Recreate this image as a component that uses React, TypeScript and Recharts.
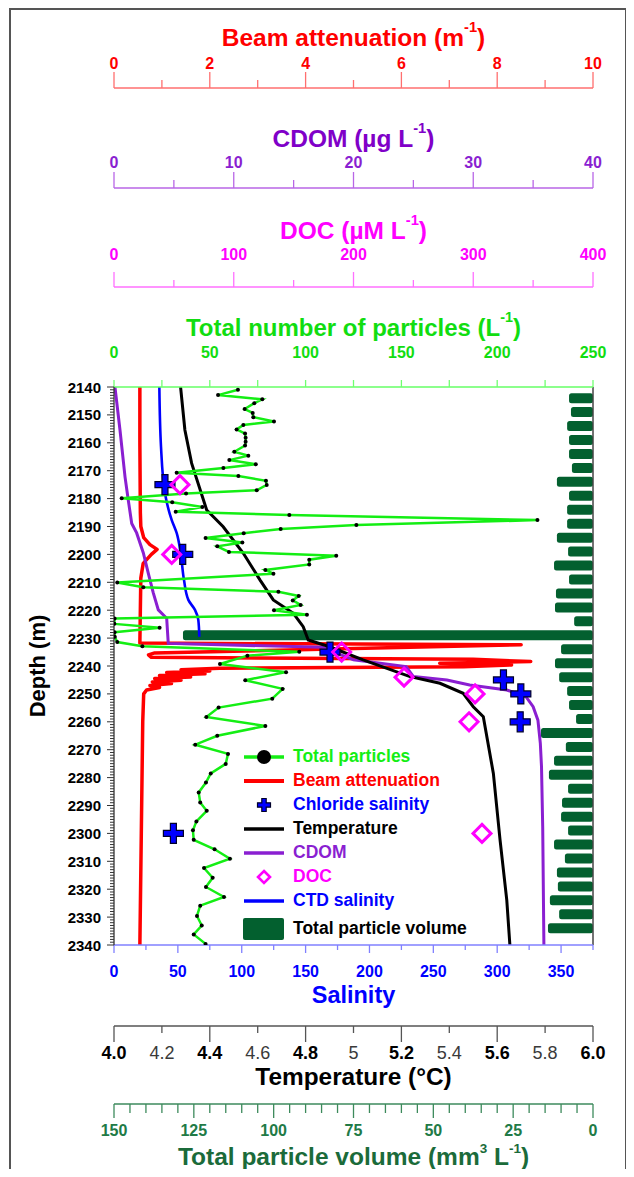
import React from "react";
import {
  ComposedChart,
  Line,
  Bar,
  XAxis,
  YAxis,
  Legend,
  ReferenceLine,
} from "recharts";

// ---- data ----
const particleDepth = [
  2141, 2142.9, 2144.4, 2145.8, 2147.9, 2149.3, 2150.8, 2152.4, 2153.6, 2155.2,
  2156.7, 2158.2, 2159.6, 2161.0, 2163.2, 2164.6, 2166.2, 2167.7, 2169.0, 2170.7,
  2171.9, 2173.6, 2175.1, 2177.0, 2178.2, 2179.9, 2181.3, 2183.0, 2184.7, 2185.9,
  2187.7, 2189.5, 2190.9, 2192.4, 2194.1, 2195.7, 2197.1, 2199.1, 2200.5, 2201.9,
  2203.6, 2205.6, 2206.9, 2210.1, 2211.8, 2213.4, 2214.9, 2216.5, 2218.1, 2220.0,
  2221.6, 2223.0, 2224.9, 2226.3, 2227.9, 2229.5, 2231.4, 2232.9, 2234.9, 2236.3,
  2239.3, 2242.2, 2245.1, 2248.2, 2251.7, 2254.9, 2258.3, 2261.5, 2265.0, 2268.2,
  2271.5, 2275.1, 2278.5, 2281.8, 2285.3, 2288.9, 2291.9, 2295.7, 2298.9, 2302.3,
  2305.7, 2309.1, 2312.4, 2315.9, 2319.2, 2322.8, 2325.9, 2329.6, 2333.0, 2336.2,
  2339.6,
];
const particleCount = [
  64.7, 54.3, 77.4, 73.2, 68.2, 72.4, 72.7, 83.5, 67.5, 64.0,
  68.4, 68.7, 68.7, 68.4, 62.8, 70.1, 60.2, 74.0, 57.1, 32.7,
  64.9, 79.3, 79.7, 74.5, 37.6, 4.0, 30.4, 46.1, 32.2, 91.5,
  221, 126.5, 87.0, 67.7, 47.8, 67.0, 53.9, 60.0, 116, 101.9,
  101.9, 79.0, 83.2, 1.7, 15.3, 85.8, 96.4, 93.3, 97.4, 83.5,
  100.7, 0.3, 0.2, 23.8, 0.3, 0.4, 1.7, 14.8, 96.7, 69.6,
  55.3, 89.8, 68.5, 88.0, 82.6, 54.6, 48.2, 79.0, 53.9, 42.4,
  59.5, 58.3, 50.5, 48.0, 44.2, 45.0, 48.4, 43.0, 41.2, 41.6,
  52.5, 60.5, 47.0, 51.5, 48.0, 57.4, 45.0, 43.3, 45.8, 41.6,
  47.8,
];

const beamDepth = [
  2140, 2160, 2185, 2190, 2194, 2196.5, 2198.2, 2200, 2203.2, 2208.5,
  2220, 2231.8, 2232.4, 2235.3, 2236.0, 2236.9, 2237.6, 2238.4, 2239.0, 2239.6,
  2240.3, 2240.8, 2241.3, 2241.8, 2242.3, 2242.8, 2243.4, 2243.9, 2244.5, 2245.1,
  2245.7, 2246.3, 2247.0, 2247.7, 2248.6, 2250, 2260, 2300, 2340,
];
const beamValue = [
  0.54, 0.54, 0.55, 0.56, 0.62, 0.75, 0.9, 0.78, 0.61, 0.56,
  0.55, 0.54, 8.5, 0.85, 0.72, 0.78, 7.5, 8.7, 6.8, 8.3,
  7.3, 2.2, 1.4, 2.0, 1.1, 1.9, 0.95, 1.6, 0.85, 1.4,
  0.8, 1.2, 0.75, 0.95, 0.68, 0.62, 0.6, 0.57, 0.54,
];

const cdomDepth = [
  2140, 2155.4, 2172.2, 2180.5, 2188.9, 2192.3, 2199.5, 2206.7, 2213.8, 2219.9,
  2222.9, 2231.9, 2233.3, 2237.8, 2240.2, 2243.8, 2245.0, 2246.8, 2248.6, 2251.0,
  2254.6, 2259.4, 2267.6, 2276.1, 2297.6, 2340,
];
const cdomValue = [
  0.08, 0.5, 0.92, 1.19, 1.48, 1.89, 2.45, 2.86, 3.28, 3.7,
  4.4, 4.53, 17.4, 20.0, 24.4, 25.0, 27.8, 29.7, 32.8, 34.4,
  35.0, 35.4, 35.6, 35.7, 35.8, 35.9,
];

const tempDepth = [
  2140, 2155.4, 2167.3, 2184.1, 2190.1, 2199.6, 2209.2, 2216.3, 2221.1, 2225.9,
  2230.7, 2233.1, 2237.8, 2243.8, 2246.2, 2249.8, 2254.6, 2258.2, 2278.5, 2302.4,
  2323.9, 2340,
];
const tempValue = [
  4.278, 4.296, 4.324, 4.387, 4.456, 4.54, 4.61, 4.665, 4.749, 4.79,
  4.811, 4.9, 5.04, 5.236, 5.361, 5.458, 5.5, 5.542, 5.584, 5.612,
  5.64, 5.653,
];

const ctdDepth = [2140, 2161.4, 2178.1, 2187.7, 2192.4, 2199.6, 2209.2, 2216.3, 2219.9, 2223.5, 2229.5];
const ctdSalinity = [35.5, 36.8, 39.9, 45.2, 49.1, 52.2, 54.8, 58.2, 63.4, 66.0, 66.8];

const chlorideDepth = [2175, 2200, 2235, 2245, 2250, 2260, 2300];
const chlorideSalinity = [39.9, 53.8, 169.1, 304.9, 318.5, 318, 46.5];

const docDepth = [2175, 2200, 2235, 2244, 2250, 2260, 2300];
const docValue = [55.1, 48.2, 190.1, 242.2, 301.5, 296.5, 307.3];

const volumeDepth = [
  2144, 2149, 2154, 2159, 2164, 2169, 2174, 2179, 2184, 2189,
  2194, 2199, 2204, 2209, 2214, 2219, 2224, 2229, 2234, 2239,
  2244, 2249, 2254, 2259, 2264, 2269, 2274, 2279, 2284, 2289,
  2294, 2299, 2304, 2309, 2314, 2319, 2324, 2329, 2334,
];
const volumeValue = [
  7.5, 6.9, 8.1, 7.5, 7.5, 6.6, 11.3, 7.5, 8.1, 8.1,
  11.3, 7.8, 12.2, 7.5, 11.6, 11.9, 5.9, 128.4, 10.0, 11.9,
  10.6, 8.1, 7.5, 5.3, 16.3, 8.5, 12.2, 13.8, 7.8, 9.7,
  10.0, 7.8, 12.2, 8.8, 11.3, 11.0, 13.5, 10.6, 14.1,
];

// ---- ticks ----
const depthLabels = [
  2140, 2150, 2160, 2170, 2180, 2190, 2200, 2210, 2220, 2230, 2240,
  2250, 2260, 2270, 2280, 2290, 2300, 2310, 2320, 2330, 2340,
];
const depthTicks = Array.from({ length: 201 }, (_, i) => 2140 + i); // 1 m minor ticks
const beamTicks = [0, 1, 2, 3, 4, 5, 6, 7, 8, 9, 10];
const cdomTicks = [0, 5, 10, 15, 20, 25, 30, 35, 40];
const docTicks = [0, 50, 100, 150, 200, 250, 300, 350, 400];
const particleTicks = [0, 25, 50, 75, 100, 125, 150, 175, 200, 225, 250];
const salinityTicks = [0, 25, 50, 75, 100, 125, 150, 175, 200, 225, 250, 275, 300, 325, 350, 375];
const tempTicks = [4.0, 4.2, 4.4, 4.6, 4.8, 5.0, 5.2, 5.4, 5.6, 5.8, 6.0];
const tempLabels = ["4.0", "4.2", "4.4", "4.6", "4.8", "5", "5.2", "5.4", "5.6", "5.8", "6.0"];
const volumeTicks = [
  0, 5, 10, 15, 20, 25, 30, 35, 40, 45, 50, 55, 60, 65, 70, 75,
  80, 85, 90, 95, 100, 105, 110, 115, 120, 125, 130, 135, 140, 145, 150,
];

const legendNames = [
  "Total particles",
  "Beam attenuation",
  "Chloride salinity",
  "Temperature",
  "CDOM",
  "DOC",
  "CTD salinity",
  "Total particle volume",
];

const zip = (d: number[], v: number[]) => d.map((depth, i) => ({ depth, v: v[i] }));
const particleData = zip(particleDepth, particleCount);
const beamData = zip(beamDepth, beamValue);
const cdomData = zip(cdomDepth, cdomValue);
const tempData = zip(tempDepth, tempValue);
const ctdData = zip(ctdDepth, ctdSalinity);
const chlorideData = zip(chlorideDepth, chlorideSalinity);
const docData = zip(docDepth, docValue);
const volumeData = volumeDepth.map((depth, i) => ({ depth, vol: volumeValue[i] }));

const FONT = '"Liberation Sans", Arial, Helvetica, sans-serif';
const RED = "#ff0000";
const PURPLE = "#8a1fd1";
const MAGENTA = "#ff00ff";
const GREEN = "#14ee14";
const BLUE = "#0000ff";
const DKGREEN = "#03602f";
const VOLTEXT = "#217a46";

type Seg = { t: string; sup?: boolean };

const TitleText = ({ x, y, segs, color, size, rotate, supShift = 0.42, supSize = 0.6 }: any) => {
  const shift = size * supShift;
  return (
    <text
      x={x}
      y={y}
      textAnchor="middle"
      dominantBaseline="central"
      fill={color}
      fontSize={size}
      fontWeight={700}
      fontFamily={FONT}
      transform={rotate ? `rotate(-90 ${x} ${y})` : undefined}
    >
      {segs.map((s: Seg, i: number) => {
        const prevSup = i > 0 && segs[i - 1].sup;
        const dy = s.sup ? -shift : prevSup ? shift : 0;
        return (
          <tspan key={i} dy={dy} fontSize={s.sup ? size * supSize : size}>
            {s.t}
          </tspan>
        );
      })}
    </text>
  );
};

// title above/below an x axis band; off is measured from the axis line
const axisTitle = (segs: Seg[], color: string, size: number, off: number, top: boolean, supShift = 0.42, supSize = 0.6) =>
  (props: any) => {
    const vb = props.viewBox;
    const lineY = top ? vb.y + vb.height : vb.y;
    return (
      <TitleText
        x={vb.x + vb.width / 2}
        y={top ? lineY - off : lineY + off}
        segs={segs}
        color={color}
        size={size}
        supShift={supShift}
        supSize={supSize}
      />
    );
  };

type TickCfg = {
  dir: 1 | -1;
  color: string;
  lineColor: string;
  len: (v: number, i: number) => number;
  label: (v: number, i: number) => string | null;
  labelOff: number;
  fontSize: number;
  bold?: (i: number) => boolean;
};

const makeXTick = (cfg: TickCfg) => (props: any) => {
  const { x, y, payload, index } = props;
  const v = payload.value;
  const text = cfg.label(v, index);
  const bold = cfg.bold ? cfg.bold(index) : true;
  return (
    <g>
      <line x1={x} x2={x} y1={y} y2={y + cfg.dir * cfg.len(v, index)} stroke={cfg.lineColor} strokeWidth={1.3} />
      {text !== null && (
        <text
          x={x}
          y={y + cfg.dir * cfg.labelOff}
          textAnchor="middle"
          dominantBaseline="central"
          fill={bold ? cfg.color : "#3a3a3a"}
          fontSize={cfg.fontSize}
          fontWeight={bold ? 700 : 400}
          fontFamily={FONT}
        >
          {text}
        </text>
      )}
    </g>
  );
};

const beamTick = makeXTick({
  dir: -1, color: RED, lineColor: "#ff6f6f", labelOff: 25, fontSize: 16,
  len: (v) => (v % 2 === 0 ? 16 : 8),
  label: (v) => (v % 2 === 0 ? String(v) : null),
});
const cdomTick = makeXTick({
  dir: -1, color: PURPLE, lineColor: "#b866e6", labelOff: 26, fontSize: 16,
  len: (v) => (v % 10 === 0 ? 16 : 8),
  label: (v) => (v % 10 === 0 ? String(v) : null),
});
const docTick = makeXTick({
  dir: -1, color: MAGENTA, lineColor: "#ff70ff", labelOff: 33, fontSize: 16,
  len: (v) => (v % 100 === 0 ? 15 : 7),
  label: (v) => (v % 100 === 0 ? String(v) : null),
});
const particleTick = makeXTick({
  dir: -1, color: "#11dd11", lineColor: "#70ff70", labelOff: 35, fontSize: 16,
  len: () => 7,
  label: (v) => (v % 50 === 0 ? String(v) : null),
});
const salinityTick = makeXTick({
  dir: 1, color: BLUE, lineColor: "#8080ff", labelOff: 26, fontSize: 16,
  len: (v) => (v % 50 === 0 ? 8 : 5),
  label: (v) => (v % 50 === 0 ? String(v) : null),
});
const tempTick = makeXTick({
  dir: 1, color: "#000", lineColor: "#555", labelOff: 27, fontSize: 18,
  len: (_v, i) => (i % 2 === 0 ? 16 : 7),
  label: (_v, i) => tempLabels[i],
  bold: (i) => i % 2 === 0,
});
const volumeTick = makeXTick({
  dir: 1, color: VOLTEXT, lineColor: "#3d8a5c", labelOff: 26, fontSize: 16,
  len: (v) => (v % 25 === 0 ? 14 : 9),
  label: (v) => (v % 25 === 0 ? String(v) : null),
});

const DepthTick = (props: any) => {
  const { x, y, payload } = props;
  const v = payload.value;
  const major = depthLabels.includes(v);
  return (
    <g>
      <line x1={x} x2={x - (major ? 7 : 4)} y1={y} y2={y} stroke="#333" strokeWidth={1} />
      {major && (
        <text x={x - 13} y={y} textAnchor="end" dominantBaseline="central" fontSize={15} fontWeight={700} fontFamily={FONT} fill="#000">
          {v}
        </text>
      )}
    </g>
  );
};

const depthTitle = (props: any) => {
  const vb = props.viewBox;
  return (
    <TitleText x={vb.x + 29} y={vb.y + vb.height / 2} segs={[{ t: "Depth (m)" }]} color="#000" size={22} rotate />
  );
};

// the depth axis carries 1 m ticks, which makes the library's band tiny;
// keep the bar centred on its depth but give it a fixed thickness
const VolumeBar = (props: any) => {
  const { x, y, width, height } = props;
  if (x == null || width == null) return <g />;
  const left = Math.min(x, x + width);
  const w = Math.abs(width);
  const cy = y + height / 2;
  return <rect x={left} y={cy - 5} width={w} height={10} rx={2.5} fill={DKGREEN} />;
};

const CrossShape = ({ cx, cy, a, t }: any) => (
  <path
    d={`M${cx - t},${cy - a}H${cx + t}V${cy - t}H${cx + a}V${cy + t}H${cx + t}V${cy + a}H${cx - t}V${cy + t}H${cx - a}V${cy - t}H${cx - t}Z`}
    fill={BLUE}
    stroke="#00002a"
    strokeWidth={1.2}
  />
);

const crossDot = (props: any) => {
  const { cx, cy, index } = props;
  if (cx == null || cy == null) return <g key={`c${index}`} />;
  return <CrossShape key={`c${index}`} cx={cx} cy={cy} a={10} t={3} />;
};

const diamondDot = (props: any) => {
  const { cx, cy, index } = props;
  if (cx == null || cy == null) return <g key={`d${index}`} />;
  const r = 9;
  return (
    <path
      key={`d${index}`}
      d={`M${cx},${cy - r}L${cx + r},${cy}L${cx},${cy + r}L${cx - r},${cy}Z`}
      fill="none"
      stroke={MAGENTA}
      strokeWidth={3}
    />
  );
};

const legendColors = [GREEN, RED, BLUE, "#000", PURPLE, MAGENTA, BLUE, "#000"];

const legendIcon = (i: number) => {
  if (i === 0)
    return (
      <g>
        <line x1={2} x2={42} y1={12} y2={12} stroke={GREEN} strokeWidth={3.5} />
        <circle cx={22} cy={12} r={7} fill="#000" />
      </g>
    );
  if (i === 2) return <CrossShape cx={22} cy={12} a={6.5} t={2.2} />;
  if (i === 5)
    return <path d="M22,6L28,12L22,18L16,12Z" fill="none" stroke={MAGENTA} strokeWidth={2.6} />;
  if (i === 7) return <rect x={1} y={3} width={41} height={22} rx={2} fill={DKGREEN} />;
  const c = [GREEN, RED, BLUE, "#000", PURPLE, MAGENTA, BLUE][i];
  return <line x1={2} x2={42} y1={12} y2={12} stroke={c} strokeWidth={i === 1 ? 4 : 3.5} />;
};

const renderLegend = () => (
  <div style={{ fontFamily: FONT, fontWeight: 700, fontSize: 17.5, lineHeight: 1 }}>
    {legendNames.map((name, i) => (
      <div key={name} style={{ display: "flex", alignItems: "center", height: i === 7 ? 32 : 24 }}>
        <svg width={48} height={i === 7 ? 28 : 24} style={{ display: "block" }}>
          {legendIcon(i)}
        </svg>
        <span style={{ marginLeft: 3, color: legendColors[i] }}>{name}</span>
      </div>
    ))}
  </div>
);

const noTickLine = { tickLine: false, tickSize: 0, tickMargin: 0, interval: 0 as const, allowDataOverflow: true };

export default function App() {
  return (
    <div style={{ position: "relative", width: 618, height: 1161 }}>
      <div
        style={{
          position: "absolute",
          left: 1,
          top: 0,
          width: 614,
          height: 1161,
          borderLeft: "2px solid #555",
          borderTop: "2px solid #555",
          borderRight: "2px solid #555",
          pointerEvents: "none",
        }}
      />
      <ComposedChart
        width={618}
        height={1161}
        layout="vertical"
        data={volumeData}
        margin={{ top: 0, right: 33, bottom: 0, left: 0 }}
      >
        {/* axes stack away from the plot in id order */}
        <XAxis xAxisId="a_part" orientation="top" type="number" domain={[0, 250]} ticks={particleTicks} height={100}
          tick={particleTick} axisLine={{ stroke: "#66ff66", strokeWidth: 1.5 }} {...noTickLine}
          label={axisTitle([{ t: "Total number of particles (L" }, { t: "-1", sup: true }, { t: ")" }], "#11dd11", 24, 60, true)} />
        <XAxis xAxisId="b_doc" orientation="top" type="number" domain={[0, 400]} ticks={docTicks} height={99}
          tick={docTick} axisLine={{ stroke: "#ff70ff", strokeWidth: 1.5 }} {...noTickLine}
          label={axisTitle([{ t: "DOC (µM L" }, { t: "-1", sup: true }, { t: ")" }], MAGENTA, 24.5, 57, true)} />
        <XAxis xAxisId="c_cdom" orientation="top" type="number" domain={[0, 40]} ticks={cdomTicks} height={100}
          tick={cdomTick} axisLine={{ stroke: "#b866e6", strokeWidth: 1.5 }} {...noTickLine}
          label={axisTitle([{ t: "CDOM (µg L" }, { t: "-1", sup: true }, { t: ")" }], "#8000c8", 24.5, 50, true)} />
        <XAxis xAxisId="d_beam" orientation="top" type="number" domain={[0, 10]} ticks={beamTicks} height={80}
          tick={beamTick} axisLine={{ stroke: "#ff6f6f", strokeWidth: 1.5 }} {...noTickLine}
          label={axisTitle([{ t: "Beam attenuation (m" }, { t: "-1", sup: true }, { t: ")" }], RED, 24.5, 51, true)} />
        <XAxis xAxisId="e_sal" orientation="bottom" type="number" domain={[0, 375]} ticks={salinityTicks} height={81}
          tick={salinityTick} axisLine={{ stroke: "#8080ff", strokeWidth: 1.5 }} {...noTickLine}
          label={axisTitle([{ t: "Salinity" }], BLUE, 23.5, 50, false)} />
        <XAxis xAxisId="f_temp" orientation="bottom" type="number" domain={[4, 6]} ticks={tempTicks} height={78}
          tick={tempTick} axisLine={{ stroke: "#555", strokeWidth: 1.3 }} {...noTickLine}
          label={axisTitle([{ t: "Temperature (°C)" }], "#000", 24.4, 50, false)} />
        <XAxis xAxisId="g_vol" orientation="bottom" type="number" domain={[0, 150]} reversed ticks={volumeTicks} height={65}
          tick={volumeTick} axisLine={{ stroke: "#3d8a5c", strokeWidth: 1.3 }} {...noTickLine}
          label={axisTitle([{ t: "Total particle volume (mm" }, { t: "3", sup: true }, { t: " L" }, { t: "-1", sup: true }, { t: ")" }], "#1b6b3a", 24.5, 52, false, 0.32, 0.55)} />
        <YAxis type="number" dataKey="depth" domain={[2140, 2340]} ticks={depthTicks} width={106}
          tick={DepthTick} axisLine={{ stroke: "#333", strokeWidth: 1.3 }} {...noTickLine} label={depthTitle} />

        <ReferenceLine x={375} xAxisId="e_sal" stroke="#444" strokeWidth={1.5} />

        <Bar xAxisId="g_vol" dataKey="vol" fill={DKGREEN} barSize={10} shape={VolumeBar} isAnimationActive={false} />

        <Line xAxisId="d_beam" data={beamData} dataKey="v" type="linear" stroke={RED} strokeWidth={3.5}
          strokeLinejoin="round" dot={false} activeDot={false} isAnimationActive={false} />
        <Line xAxisId="c_cdom" data={cdomData} dataKey="v" type="linear" stroke={PURPLE} strokeWidth={3}
          dot={false} activeDot={false} isAnimationActive={false} />
        <Line xAxisId="e_sal" data={ctdData} dataKey="v" type="monotone" stroke={BLUE} strokeWidth={2.6}
          dot={false} activeDot={false} isAnimationActive={false} />
        <Line xAxisId="f_temp" data={tempData} dataKey="v" type="linear" stroke="#000" strokeWidth={3}
          dot={false} activeDot={false} isAnimationActive={false} />
        <Line xAxisId="a_part" data={particleData} dataKey="v" type="linear" stroke={GREEN} strokeWidth={2.5}
          dot={{ r: 2, fill: "#000", stroke: "#000", strokeWidth: 0 }} activeDot={false} isAnimationActive={false} />
        <Line xAxisId="e_sal" data={chlorideData} dataKey="v" stroke="none" dot={crossDot} activeDot={false}
          isAnimationActive={false} />
        <Line xAxisId="b_doc" data={docData} dataKey="v" stroke="none" dot={diamondDot} activeDot={false}
          isAnimationActive={false} />

        <Legend
          layout="vertical"
          align="center"
          verticalAlign="middle"
          content={renderLegend}
          wrapperStyle={{ left: 234, top: 737, width: 260 }}
        />
      </ComposedChart>
    </div>
  );
}
